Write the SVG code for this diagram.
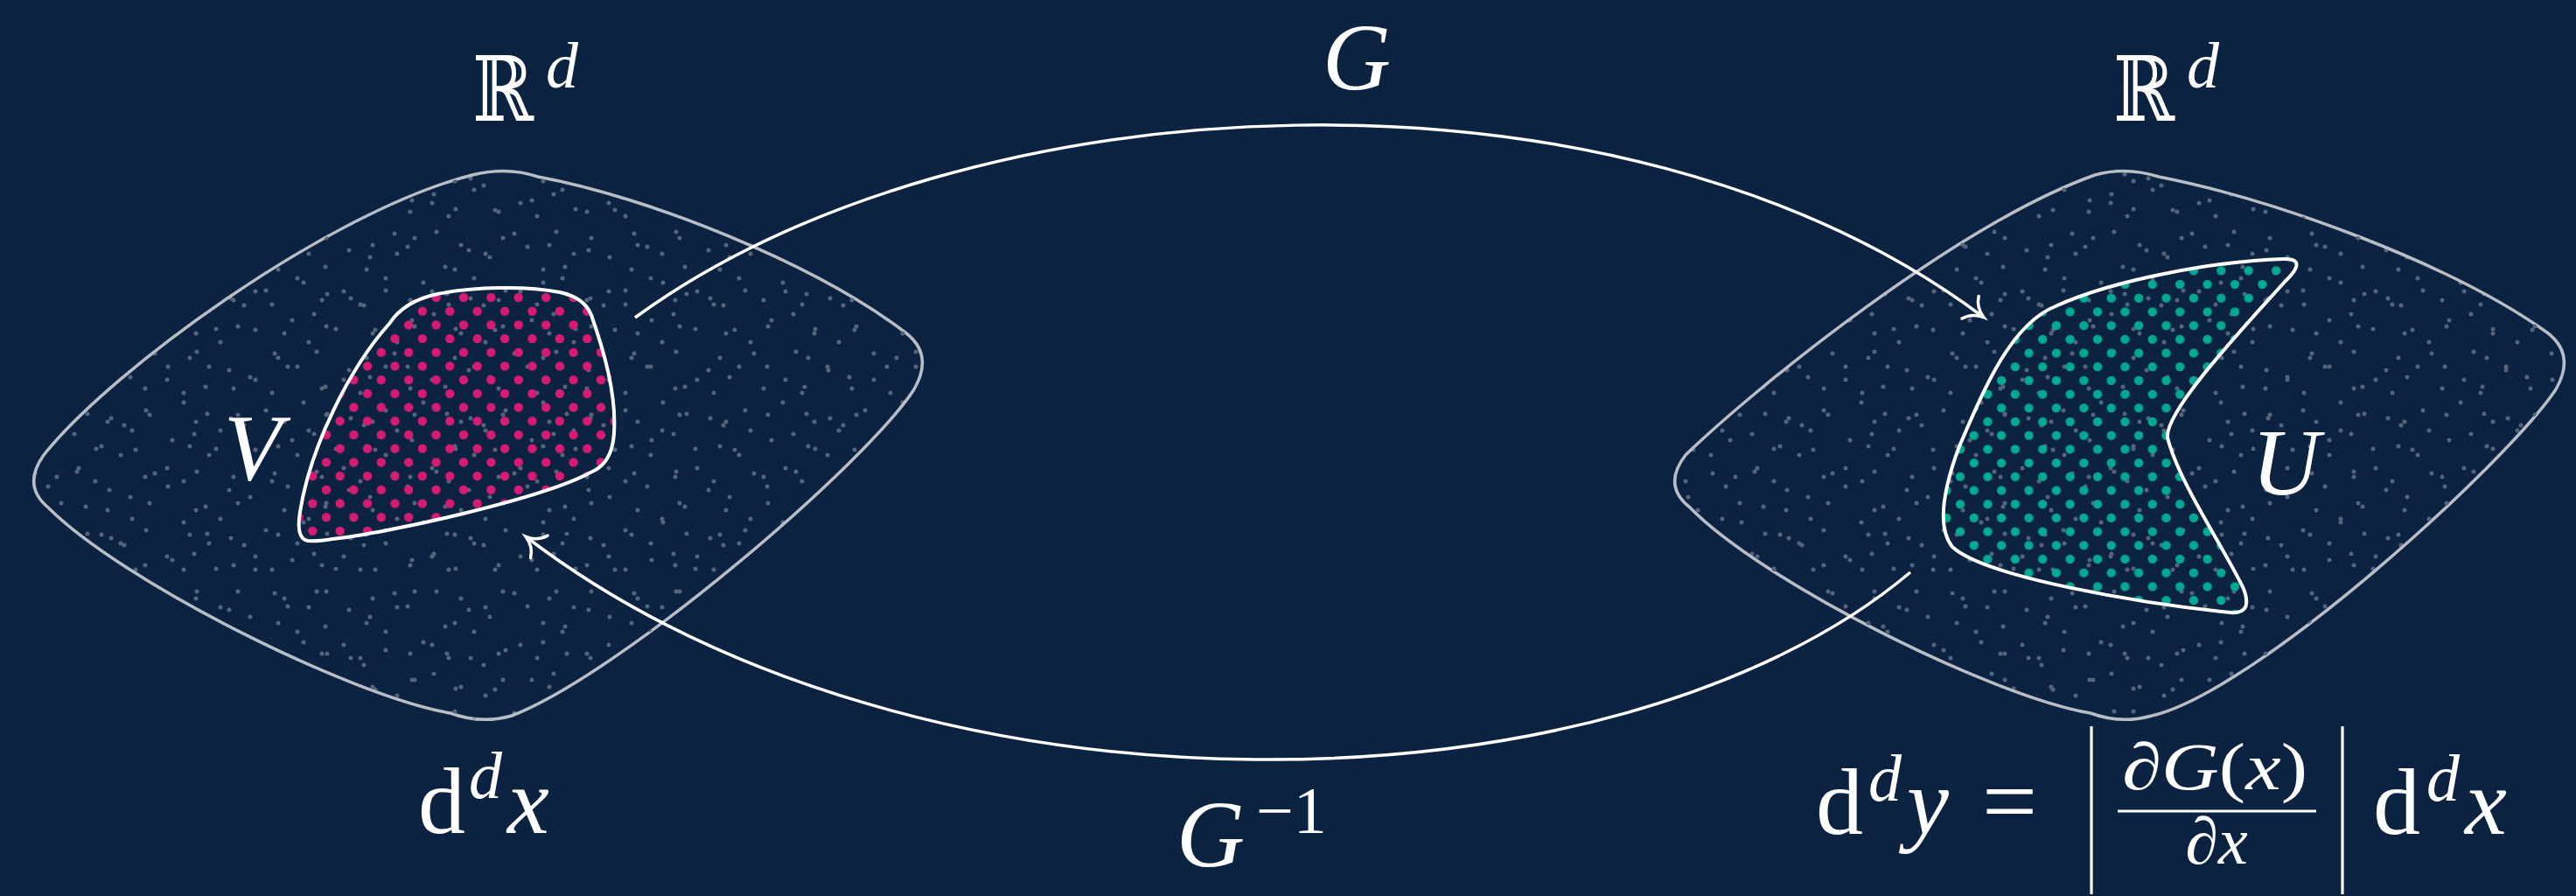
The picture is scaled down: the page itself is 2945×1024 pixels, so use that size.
<svg xmlns="http://www.w3.org/2000/svg" width="2945" height="1024" viewBox="0 0 2945 1024">
<defs>
<style>
.bg{fill:#0b2240}
.blob{stroke:#b9bec6;stroke-width:3.5;fill:url(#gA)}
.blob2{fill:url(#gB);stroke:none}
.set{stroke:#ffffff;stroke-width:4;stroke-linejoin:round}
.conn{fill:none;stroke:#ffffff;stroke-width:3.5}
.t{fill:#ffffff}
.it{font-style:italic}
.bb{fill:#ffffff}
.rule{stroke:#ffffff;stroke-width:3.2}
</style>
<pattern id="gA" width="137" height="137" patternUnits="userSpaceOnUse">
<rect width="137" height="137" fill="#0b2240"/>
<g fill="#56647a">
<circle cx="12" cy="20" r="2.5"/><circle cx="55" cy="8" r="2.5"/><circle cx="98" cy="31" r="2.5"/>
<circle cx="127" cy="67" r="2.5"/><circle cx="30" cy="58" r="2.5"/><circle cx="73" cy="49" r="2.5"/>
<circle cx="110" cy="102" r="2.5"/><circle cx="18" cy="103" r="2.5"/><circle cx="60" cy="92" r="2.5"/>
<circle cx="88" cy="128" r="2.5"/><circle cx="40" cy="130" r="2.5"/><circle cx="125" cy="12" r="2.5"/>
<circle cx="85" cy="85" r="2.5"/><circle cx="5" cy="75" r="2.5"/><circle cx="100" cy="62" r="2.5"/>
</g>
</pattern>
<pattern id="gB" width="101" height="101" patternUnits="userSpaceOnUse">
<g fill="#56647a">
<circle cx="8" cy="45" r="2.5"/><circle cx="37" cy="15" r="2.5"/><circle cx="70" cy="70" r="2.5"/>
<circle cx="90" cy="30" r="2.5"/><circle cx="50" cy="88" r="2.5"/><circle cx="22" cy="78" r="2.5"/>
<circle cx="65" cy="40" r="2.5"/><circle cx="15" cy="5" r="2.5"/>
</g>
</pattern>
<pattern id="pk" x="522.15" y="332.15" width="31.4" height="31.4" patternUnits="userSpaceOnUse">
<circle cx="7.85" cy="7.85" r="5.2" fill="#d81b72"/><circle cx="23.55" cy="23.55" r="5.2" fill="#d81b72"/>
</pattern>
<pattern id="tl" x="2531.45" y="301.45" width="31.4" height="31.4" patternUnits="userSpaceOnUse">
<circle cx="7.85" cy="7.85" r="5.2" fill="#00a98f"/><circle cx="23.55" cy="23.55" r="5.2" fill="#00a98f"/>
</pattern>
<marker id="arr" markerUnits="userSpaceOnUse" orient="auto" markerWidth="60" markerHeight="60" viewBox="-30 -30 60 60" refX="0" refY="0" overflow="visible">
<path d="M -18,-16 C -14,-7 -6,-2 1,0 C -6,2 -14,7 -18,16" fill="none" stroke="#ffffff" stroke-width="3.5" stroke-linecap="round"/>
</marker>
</defs>
<rect class="bg" width="2945" height="1024"/>

<g id="space-left">
<path class="blob" d="M 50,520 C 130,420 380,240 540,200 Q 580,190 615,202 C 740,225 930,300 1035,380 Q 1068,405 1045,445 C 990,530 710,770 585,818 Q 550,828 515,815 C 400,795 140,665 55,580 Q 25,555 50,520 Z"/>
<path class="blob2" d="M 50,520 C 130,420 380,240 540,200 Q 580,190 615,202 C 740,225 930,300 1035,380 Q 1068,405 1045,445 C 990,530 710,770 585,818 Q 550,828 515,815 C 400,795 140,665 55,580 Q 25,555 50,520 Z"/>
</g>
<g id="space-right">
<path class="blob" d="M 1927,520 C 2010,440 2240,255 2395,200 Q 2430,190 2468,202 C 2600,228 2800,300 2912,380 Q 2945,405 2922,445 C 2865,530 2580,790 2460,818 Q 2425,828 2390,815 C 2275,795 2015,665 1932,580 Q 1900,555 1927,520 Z"/>
<path class="blob2" d="M 1927,520 C 2010,440 2240,255 2395,200 Q 2430,190 2468,202 C 2600,228 2800,300 2912,380 Q 2945,405 2922,445 C 2865,530 2580,790 2460,818 Q 2425,828 2390,815 C 2275,795 2015,665 1932,580 Q 1900,555 1927,520 Z"/>
</g>

<g id="set-V">
<path class="set" fill="url(#pk)" d="M 352,618 Q 338,616 343,585 C 355,510 400,420 445,370 Q 462,344 500,336 C 540,328 600,326 640,334 Q 668,340 676,360 C 690,400 705,450 702,495 Q 700,530 675,540 C 620,570 440,610 380,616 Q 362,619 352,618 Z"/>
</g>
<g id="set-U">
<path class="set" fill="url(#tl)" d="M 2610,296 C 2540,298 2420,318 2350,350 C 2300,370 2270,440 2240,510 C 2225,550 2212,600 2232,625 C 2270,660 2450,690 2550,700 Q 2576,702 2565,673 C 2545,630 2490,550 2478,500 C 2475,470 2560,380 2612,322 Q 2640,295 2610,296 Z"/>
</g>

<g id="connectors">
<path class="conn" d="M 726,363 C 1100,90 1850,50 2267,362" marker-end="url(#arr)"/>
<path class="conn" d="M 2184,654 C 1850,936 1050,956 602,614" marker-end="url(#arr)"/>
</g>

<g id="labels" font-family="Liberation Serif, serif">
<text class="bb" font-family="DejaVu Serif, serif" x="540" y="138" font-size="103" textLength="70" lengthAdjust="spacingAndGlyphs">ℝ</text>
<text class="t it" x="624" y="100" font-size="74">d</text>
<text class="bb" font-family="DejaVu Serif, serif" x="2416" y="138" font-size="103" textLength="70" lengthAdjust="spacingAndGlyphs">ℝ</text>
<text class="t it" x="2500" y="100" font-size="74">d</text>
<text class="t it" x="1512" y="102" font-size="108">G</text>
<text class="t it" x="1345" y="990" font-size="108">G</text>
<text class="t" x="1436" y="952" font-size="76">−1</text>
<text class="t it" x="256" y="548" font-size="108">V</text>
<text class="t it" x="2574" y="565" font-size="108">U</text>
<text class="t" x="478" y="952" font-size="108">d</text>
<text class="t it" x="536" y="912" font-size="76">d</text>
<text class="t it" x="580" y="952" font-size="108">x</text>
<text class="t" x="2076" y="953" font-size="108">d</text>
<text class="t it" x="2136" y="915" font-size="76">d</text>
<text class="t it" x="2180" y="953" font-size="108">y</text>
<text class="t" x="2266" y="953" font-size="112">=</text>
<line class="rule" x1="2391" y1="830" x2="2391" y2="1022"/>
<line class="rule" x1="2678" y1="830" x2="2678" y2="1022"/>
<text class="t" x="2426" y="902" font-size="76" textLength="212" lengthAdjust="spacingAndGlyphs">∂<tspan class="it">G</tspan>(<tspan class="it">x</tspan>)</text>
<line class="rule" x1="2421" y1="927" x2="2648" y2="927"/>
<text class="t" x="2534" y="987" font-size="76" text-anchor="middle">∂<tspan class="it">x</tspan></text>
<text class="t" x="2713" y="953" font-size="108">d</text>
<text class="t it" x="2774" y="915" font-size="76">d</text>
<text class="t it" x="2818" y="953" font-size="108">x</text>
</g>
</svg>
